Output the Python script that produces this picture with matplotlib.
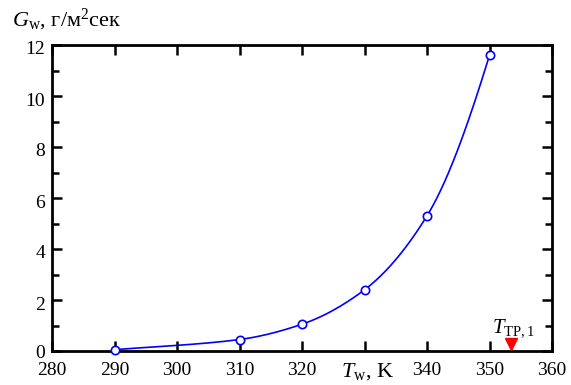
import numpy as np
import matplotlib
matplotlib.use("Agg")
import matplotlib.pyplot as plt
import matplotlib.transforms as mtransforms
from matplotlib.ticker import MultipleLocator

T_w = [290, 310, 320, 330, 340, 350]
G_w = [0.05, 0.45, 1.05, 2.4, 5.3, 11.6]
T_tp1 = 353.4
xticks = [280, 290, 300, 310, 320, 330, 340, 350, 360]
xticklabels = ['280', '290', '300', '310', '320', '', '340', '350', '360']
yticks = [0, 2, 4, 6, 8, 10, 12]

plt.rcParams['font.family'] = ['Liberation Serif', 'DejaVu Serif']
plt.rcParams['mathtext.fontset'] = 'custom'
plt.rcParams['mathtext.rm'] = 'Liberation Serif'
plt.rcParams['mathtext.it'] = 'Liberation Serif:italic'

def pchip(x, y, xs):
    x = np.asarray(x, float); y = np.asarray(y, float)
    h = np.diff(x); d = np.diff(y) / h
    n = len(x); m = np.zeros(n)
    for k in range(1, n - 1):
        if d[k-1] * d[k] > 0:
            w1 = 2*h[k] + h[k-1]; w2 = h[k] + 2*h[k-1]
            m[k] = (w1 + w2) / (w1/d[k-1] + w2/d[k])
    m[0] = d[0]; m[-1] = ((2*h[-1] + h[-2])*d[-1] - h[-1]*d[-2]) / (h[-1] + h[-2])
    out = np.empty_like(xs)
    for i, xv in enumerate(xs):
        k = min(max(np.searchsorted(x, xv) - 1, 0), n - 2)
        t = (xv - x[k]) / h[k]
        h00 = 2*t**3 - 3*t**2 + 1; h10 = t**3 - 2*t**2 + t
        h01 = -2*t**3 + 3*t**2; h11 = t**3 - t**2
        out[i] = h00*y[k] + h10*h[k]*m[k] + h01*y[k+1] + h11*h[k]*m[k+1]
    return out

fig = plt.figure(figsize=(5.71, 3.85), dpi=100)
ax = fig.add_axes([52/571, 1 - 351/385, 500/571, 306/385])
xs = np.linspace(T_w[0], T_w[-1], 300)
ax.plot(xs, pchip(T_w, G_w, xs), color='#0000ff', lw=1.2, zorder=3)
ax.plot(T_w, G_w, 'o', ms=6, mfc='white', mec='#0000ff', mew=1.2, zorder=4, clip_on=False)
ax.plot([T_tp1], [0.27], marker='v', color='#ff0000', ms=9, zorder=5, clip_on=False)
ax.text(T_tp1 + 0.5, 0.72, r'$T_{\mathrm{TP,1}}$', fontsize=15, ha='center', va='baseline')

ax.set_xlim(280, 360)
ax.set_ylim(0, 12)
ax.set_xticks(xticks)
ax.set_xticklabels(xticklabels)
ax.set_yticks(yticks)
ax.yaxis.set_minor_locator(MultipleLocator(1))
ax.tick_params(which='both', direction='in', top=True, right=True, width=1.8,
               labelsize=14)
ax.tick_params(axis='x', pad=8)
ax.tick_params(axis='y', pad=5)
ax.tick_params(which='major', length=7)
ax.tick_params(which='minor', length=5)
for s in ax.spines.values():
    s.set_linewidth(2)

for lab, v in zip(ax.get_yticklabels(), yticks):
    dy = -1 if v == 0 else -3
    off = mtransforms.ScaledTranslation(0, dy/100, fig.dpi_scale_trans)
    lab.set_transform(lab.get_transform() + off)

fig.text(368/571, 1 - 372/385, r'$T_{\mathrm{w}}$, K', fontsize=16, ha='center', va='center')
fig.text(12/571, 1 - 20/385, r'$G_{\mathrm{w}}$, г/м$^{2}$сек', fontsize=16, ha='left', va='center')

fig.savefig('out.png', dpi=100)
